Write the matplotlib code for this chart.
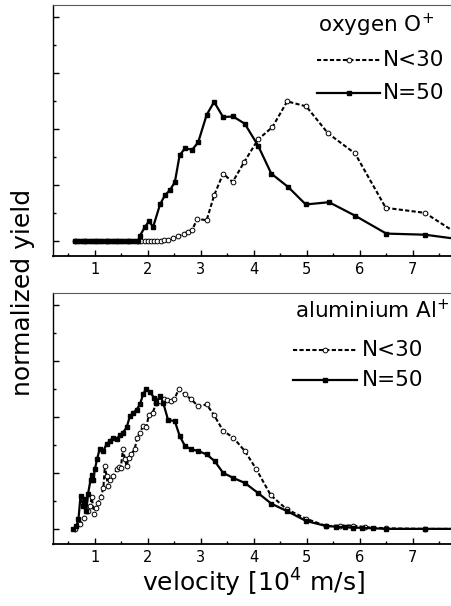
import matplotlib
matplotlib.use("Agg")
import matplotlib.pyplot as plt
from matplotlib.ticker import MultipleLocator, NullFormatter

plt.rcParams['font.family'] = ['DejaVu Sans']
plt.rcParams['mathtext.fontset'] = 'dejavusans'

# ---- oxygen O+ ----
oxy_n50_v = [0.62, 0.67, 0.72, 0.77, 0.82, 0.87, 0.92, 0.97, 1.02, 1.07, 1.12, 1.17,
             1.22, 1.27, 1.32, 1.37, 1.42, 1.47, 1.52, 1.57, 1.62, 1.67, 1.72, 1.77,
             1.82, 1.85, 1.94, 2.02, 2.10, 2.23, 2.32, 2.42, 2.51, 2.60, 2.70, 2.84,
             2.95, 3.11, 3.25, 3.42, 3.61, 3.83, 4.08, 4.33, 4.65, 4.98, 5.42, 5.91,
             6.50, 7.23, 7.95]
oxy_n50_y = [0, 0, 0, 0, 0, 0, 0, 0, 0, 0, 0, 0,
             0, 0, 0, 0, 0, 0, 0, 0, 0, 0, 0, 0,
             0, 0.10, 0.25, 0.36, 0.26, 0.66, 0.82, 0.92, 1.06, 1.54, 1.66, 1.64,
             1.77, 2.26, 2.49, 2.22, 2.23, 2.10, 1.71, 1.21, 0.97, 0.66, 0.70, 0.46,
             0.14, 0.12, 0.03]

oxy_n30_v = [0.62, 0.82, 1.02, 1.22, 1.42, 1.62, 1.82, 1.88, 1.94, 2.00, 2.06, 2.12,
             2.18, 2.24, 2.30, 2.38, 2.48, 2.57, 2.68, 2.76, 2.84, 2.93, 3.11, 3.25,
             3.42, 3.60, 3.82, 4.08, 4.35, 4.63, 4.99, 5.40, 5.91, 6.49, 7.23, 7.95]
oxy_n30_y = [0, 0, 0, 0, 0, 0, 0, 0, 0, 0, 0, 0,
             0, 0.01, 0.02, 0.03, 0.07, 0.09, 0.14, 0.17, 0.21, 0.40, 0.38, 0.82,
             1.21, 1.06, 1.42, 1.82, 2.04, 2.50, 2.41, 1.93, 1.57, 0.60, 0.51, 0.07]

# ---- aluminium Al+ ----
al_n50_v = [0.59, 0.65, 0.69, 0.73, 0.78, 0.81, 0.84, 0.87, 0.92, 0.94, 0.97, 1.00,
            1.04, 1.09, 1.16, 1.22, 1.28, 1.35, 1.41, 1.47, 1.53, 1.60, 1.66, 1.72,
            1.79, 1.85, 1.91, 1.96, 2.04, 2.12, 2.16, 2.23, 2.29, 2.38, 2.51, 2.60,
            2.70, 2.82, 2.95, 3.11, 3.26, 3.42, 3.61, 3.83, 4.08, 4.33, 4.62, 4.99,
            5.37, 5.55, 5.72, 5.87, 6.05, 6.25, 6.50, 7.23, 7.95]
al_n50_y = [0, 0.06, 0.18, 0.60, 0.42, 0.54, 0.33, 0.63, 0.89, 0.98, 0.89, 1.07,
            1.25, 1.43, 1.40, 1.52, 1.58, 1.64, 1.61, 1.68, 1.73, 1.82, 2.02, 2.08,
            2.14, 2.23, 2.41, 2.50, 2.45, 2.35, 2.26, 2.39, 2.26, 1.96, 1.93, 1.67,
            1.49, 1.43, 1.40, 1.34, 1.22, 1.01, 0.92, 0.83, 0.65, 0.46, 0.33, 0.15,
            0.06, 0.05, 0.04, 0.03, 0.03, 0.02, 0.01, 0.01, 0.01]

al_n30_v = [0.62, 0.72, 0.80, 0.87, 0.91, 0.94, 0.99, 1.02, 1.06, 1.11, 1.16, 1.19,
            1.22, 1.25, 1.28, 1.35, 1.41, 1.46, 1.49, 1.53, 1.57, 1.60, 1.64, 1.69,
            1.75, 1.80, 1.85, 1.91, 1.97, 2.02, 2.09, 2.16, 2.23, 2.30, 2.36, 2.43,
            2.50, 2.58, 2.70, 2.82, 2.95, 3.11, 3.25, 3.42, 3.61, 3.83, 4.05, 4.32,
            4.62, 4.99, 5.37, 5.62, 5.87, 6.10, 6.50, 7.23, 7.95]
al_n30_y = [0, 0.09, 0.20, 0.33, 0.42, 0.57, 0.27, 0.39, 0.48, 0.57, 0.74, 1.14,
            0.95, 0.77, 0.89, 0.95, 1.07, 1.12, 1.10, 1.43, 1.25, 1.13, 1.28, 1.34,
            1.43, 1.64, 1.73, 1.84, 1.82, 2.05, 2.08, 2.26, 2.29, 2.32, 2.31, 2.29,
            2.32, 2.50, 2.41, 2.32, 2.20, 2.23, 2.04, 1.76, 1.64, 1.40, 1.07, 0.61,
            0.36, 0.19, 0.06, 0.07, 0.07, 0.04, 0.02, 0.01, 0.01]

panels = [
    ("oxygen O$^{+}$", oxy_n30_v, oxy_n30_y, oxy_n50_v, oxy_n50_y),
    ("aluminium Al$^{+}$", al_n30_v, al_n30_y, al_n50_v, al_n50_y),
]

W, H = 452, 606
fig = plt.figure(figsize=(W / 100, H / 100), dpi=100)
ax_top = fig.add_axes([53 / W, 1 - 256 / H, 1 - 53 / W, 251 / H])
ax_bot = fig.add_axes([53 / W, 1 - 544 / H, 1 - 53 / W, 251 / H])

# legend placement (axes fractions) for each panel
key_pos = [
    dict(title=(0.664, 0.92), x0=0.662, x1=0.820, xt=0.827, rows=(0.781, 0.649)),
    dict(title=(0.607, 0.932), x0=0.602, x1=0.762, xt=0.774, rows=(0.773, 0.653)),
]

dash = (0, (2.0, 1.1))

for ax, (title, v30, y30, v50, y50), kp in zip([ax_top, ax_bot], panels, key_pos):
    ax.plot(v30, y30, color="black", lw=1.5, ls=dash,
            marker="o", ms=3.4, mfc="white", mec="black", mew=0.7, zorder=3)
    ax.plot(v50, y50, color="black", lw=1.6, ls="-",
            marker="s", ms=2.5, mfc="black", mec="black", zorder=4)

    ax.set_xlim(0.21, 7.74)
    ax.set_ylim(-0.26, 4.22)
    ax.xaxis.set_major_locator(MultipleLocator(1))
    ax.xaxis.set_minor_locator(MultipleLocator(0.5))
    ax.yaxis.set_major_locator(MultipleLocator(1))
    ax.yaxis.set_minor_locator(MultipleLocator(0.5))
    ax.yaxis.set_major_formatter(NullFormatter())
    ax.tick_params(which="both", direction="in", top=False, right=False, width=1.0)
    ax.tick_params(which="major", length=4.5, labelsize=10.5, pad=4)
    ax.tick_params(which="minor", length=2.5)
    ax.spines["right"].set_visible(False)
    ax.spines["left"].set_linewidth(1.0)
    ax.spines["bottom"].set_linewidth(1.3)
    ax.spines["top"].set_linewidth(0.8)
    ax.spines["top"].set_color("0.35")

    # key
    tr = ax.transAxes
    ax.text(kp["title"][0], kp["title"][1], title, transform=tr, fontsize=15.5,
            ha="left", va="center")
    xm = (kp["x0"] + kp["x1"]) / 2
    ax.plot([kp["x0"], xm, kp["x1"]], [kp["rows"][0]] * 3, transform=tr,
            color="black", lw=1.5, ls=dash, marker="o", markevery=[1],
            ms=3.4, mfc="white", mec="black", mew=0.7, clip_on=False)
    ax.plot([kp["x0"], xm, kp["x1"]], [kp["rows"][1]] * 3, transform=tr,
            color="black", lw=1.6, marker="s", markevery=[1], ms=2.5, clip_on=False)
    ax.text(kp["xt"], kp["rows"][0], "N<30", transform=tr, fontsize=15.5,
            ha="left", va="center")
    ax.text(kp["xt"], kp["rows"][1], "N=50", transform=tr, fontsize=15.5,
            ha="left", va="center")

fig.text(23 / W, 1 - 292 / H, "normalized yield", rotation=90, fontsize=18,
         ha="center", va="center")
fig.text(253 / W, 1 - 583 / H, "velocity [10$^{4}$ m/s]", fontsize=18,
         ha="center", va="center")

fig.savefig("out.png", dpi=100)
